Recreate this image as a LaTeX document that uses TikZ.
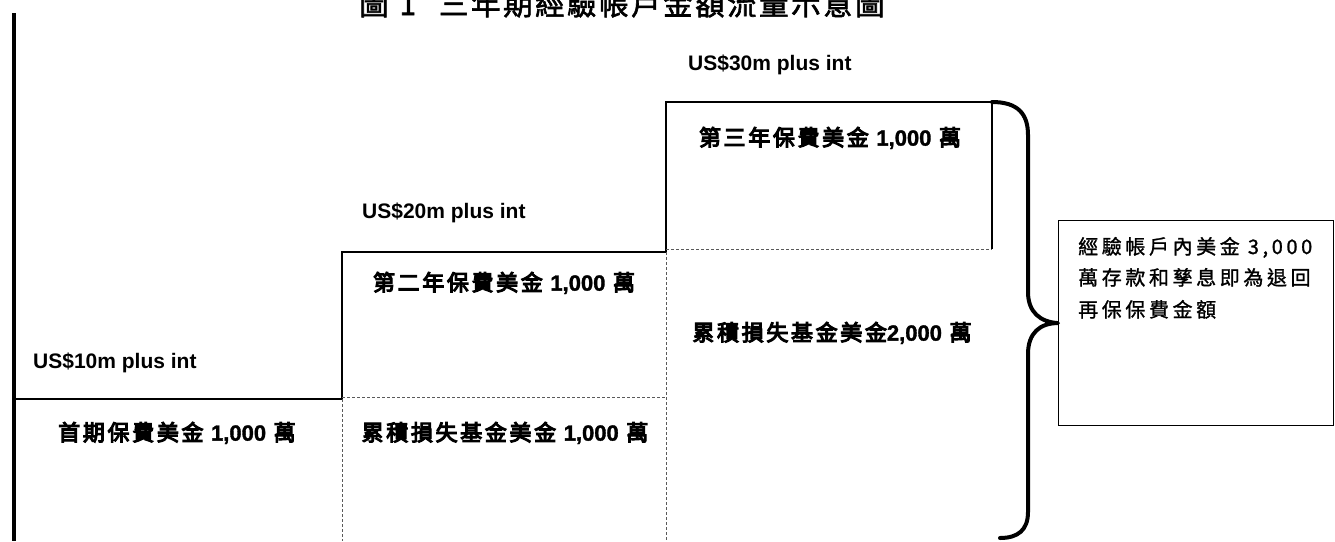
\documentclass[tikz,border=0pt]{standalone}
\usepackage{fontspec}
\setmainfont{Liberation Sans}
\newfontfamily\titlefont[FakeBold=2,LetterSpace=8.5]{Noto Sans CJK TC}
\newfontfamily\heavycjk[FakeBold=5,LetterSpace=12]{Noto Sans CJK TC}
\newfontfamily\notecjk[FakeBold=1.2,LetterSpace=18]{Noto Sans CJK TC}
\newfontfamily\heavynum[BoldFeatures={FakeBold=1.5}]{Liberation Sans}
\newcommand\fundnum[1]{{\heavynum\bfseries #1}}
\begin{document}
\begin{tikzpicture}[x=1pt,y=-1pt,
  solidedge/.style={line width=1.3pt, black},
  faintedge/.style={line width=1pt, black!65, densely dashed},
  amount/.style={font=\fontsize{21}{25}\selectfont\bfseries, anchor=west, inner sep=0pt},
  fundlabel/.style={font=\fontsize{22}{26}\selectfont\heavycjk, inner sep=0pt},
  note/.style={font=\fontsize{20}{24}\selectfont\notecjk, anchor=base west, inner sep=0pt},
  brace/.style={line width=4pt, black, line cap=round, line join=round}]
\useasboundingbox (0,0) rectangle (1335,541);
\fill[white] (0,0) rectangle (1335,541);
% title, cut off by the top edge as in the scan
\begin{scope}
\clip (0,0) rectangle (1335,541);
\node[font=\fontsize{29.5}{31}\selectfont\titlefont, anchor=base west, inner sep=0pt] (title) at (359,15)
  {圖\hspace{11pt}1\hspace{23pt}三年期經驗帳戶金額流量示意圖};
\end{scope}
% axis
\coordinate (axisTop) at (14,13);
\coordinate (axisBot) at (14,541);
\draw[line width=4pt] (axisTop) -- (axisBot);
% step corners
\coordinate (s1a) at (14,399);
\coordinate (s1b) at (342,399);
\coordinate (s2a) at (342,252);
\coordinate (s2b) at (666,252);
\coordinate (s3a) at (666,102);
\coordinate (s3b) at (992,102);
\coordinate (s3c) at (992,249);
\coordinate (s3d) at (666,249);
\coordinate (s2c) at (666,397);
\coordinate (s2d) at (342,397);
\coordinate (b1) at (342,541);
\coordinate (b2) at (666,541);
\draw[solidedge] (s1a) -- (s1b) -- (s2a) -- (s2b) -- (s3a) -- (s3b) -- (s3c);
\draw[faintedge] (s1b) -- (b1);
\draw[faintedge] (s2d) -- (s2c);
\draw[faintedge] (s2b) -- (b2);
\draw[faintedge] (s3d) -- (s3c);
% amounts
\node[amount] (l10) at (33,363) {US\$10m plus int};
\node[amount] (l20) at (362,213) {US\$20m plus int};
\node[amount] (l30) at (688,65) {US\$30m plus int};
% fund labels
\node[fundlabel] (f1) at (177,433) {首期保費美金 \fundnum{1,000} 萬};
\node[fundlabel] (f2) at (505,433) {累積損失基金美金 \fundnum{1,000} 萬};
\node[fundlabel] (f3) at (504,283) {第二年保費美金 \fundnum{1,000} 萬};
\node[fundlabel] (f4) at (830,138) {第三年保費美金 \fundnum{1,000} 萬};
\node[fundlabel] (f5) at (832,333) {累積損失基金美金\fundnum{2,000} 萬};
% note box
\node[draw, line width=1.2pt, minimum width=275pt, minimum height=205pt, anchor=north west, inner sep=0pt] (notebox) at (1058,220) {};
\node[note] (n1) at (1078,254) {經驗帳戶內美金 3,000};
\node[note] (n2) at (1078,285) {萬存款和孳息即為退回};
\node[note] (n3) at (1078,317) {再保保費金額};
% brace
\coordinate (braceEnd) at (1000,538);
\draw[brace] (s3b) .. controls (1018,102) and (1028,114) .. (1028,135) -- (1028,292)
  .. controls (1028,312) and (1040,322) .. (notebox.west)
  .. controls (1040,323) and (1028,333) .. (1028,354) -- (1028,512)
  .. controls (1028,530) and (1018,538) .. (braceEnd);
\end{tikzpicture}
\end{document}
